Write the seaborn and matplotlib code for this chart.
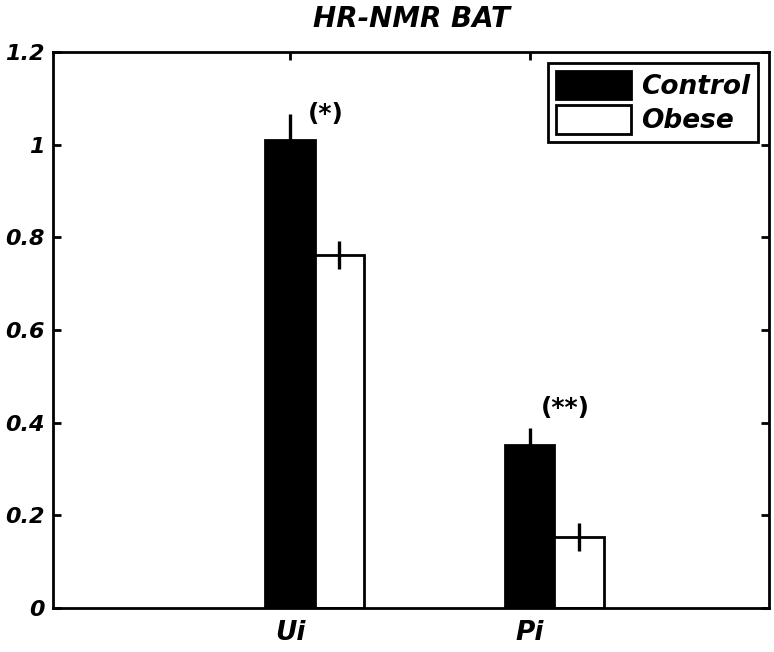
import pandas as pd
import matplotlib
matplotlib.use('Agg')
import matplotlib.pyplot as plt
import seaborn as sns

# values
categories = ['Ui', 'Pi']
groups = ['Control', 'Obese']
control_means = [1.010, 0.352]
obese_means = [0.762, 0.153]
control_err = [0.056, 0.037]
obese_err = [0.030, 0.031]
stars = ['(*)', '(**)']
y_ticks = [0, 0.2, 0.4, 0.6, 0.8, 1.0, 1.2]

df = pd.DataFrame({
    'Metabolite': categories * 2,
    'Group': [groups[0]] * 2 + [groups[1]] * 2,
    'Value': control_means + obese_means,
})

sns.set_style('white')
plt.rcParams['font.family'] = ['DejaVu Sans']
plt.rcParams['font.weight'] = 'bold'
plt.rcParams['font.style'] = 'italic'
plt.rcParams['text.color'] = 'black'
plt.rcParams['xtick.color'] = 'black'
plt.rcParams['ytick.color'] = 'black'
plt.rcParams['axes.labelcolor'] = 'black'

fig = plt.figure(figsize=(7.74, 6.52), dpi=100)
ax = fig.add_axes([0.0685, 0.0675, 0.925, 0.8525])

sns.barplot(data=df, x='Metabolite', y='Value', hue='Group', order=categories,
            hue_order=groups, palette=['black', 'white'], edgecolor='black',
            linewidth=2, width=0.412, saturation=1, errorbar=None, ax=ax)

# error bars on top of each bar
errs = [control_err, obese_err]
for cont, err in zip(ax.containers, errs):
    xs = [b.get_x() + b.get_width() / 2 for b in cont]
    ys = [b.get_height() for b in cont]
    ax.errorbar(xs, ys, yerr=err, fmt='none', ecolor='black', elinewidth=2.4, capsize=0)

# ticks sit at the centre of the control bars
ctrl_x = [b.get_x() + b.get_width() / 2 for b in ax.containers[0]]
ax.set_xticks(ctrl_x)
ax.set_xticklabels(categories)
ax.set_xlim(ctrl_x[0] - 0.99, ctrl_x[1] + 1.0)
ax.set_ylim(0, 1.2)
ax.set_yticks(y_ticks)
ax.set_yticklabels(['%g' % t for t in y_ticks])

for x, b, e, s in zip(ctrl_x, ax.containers[0], control_err, stars):
    top = b.get_height() + e
    ax.text(x + 0.148, top + (0.0 if s == '(*)' else 0.043), s, ha='center', va='center',
            fontsize=18, fontweight='heavy', fontstyle='normal', color='black')

ax.set_xlabel('')
ax.set_ylabel('')
ax.set_title('HR-NMR BAT', fontsize=20, fontweight='heavy', fontstyle='italic',
             pad=18, color='black')

ax.tick_params(axis='both', direction='in', length=6, width=2, labelsize=16,
               top=True, right=True, bottom=True, left=True, colors='black')
ax.tick_params(axis='y', pad=6)
ax.tick_params(axis='x', pad=9, labelsize=19)
for sp in ax.spines.values():
    sp.set_linewidth(2)
    sp.set_color('black')
    sp.set_visible(True)

leg = ax.legend(loc='upper right', fontsize=19, frameon=True, fancybox=False,
                edgecolor='black', framealpha=1, handlelength=2.85, handleheight=1.3,
                borderaxespad=0.4, borderpad=0.3, labelspacing=0.2, handletextpad=0.4)
leg.get_frame().set_linewidth(2)
for t in leg.get_texts():
    t.set_fontweight('heavy')
    t.set_fontstyle('italic')
    t.set_color('black')

fig.savefig('out.png', dpi=100)
